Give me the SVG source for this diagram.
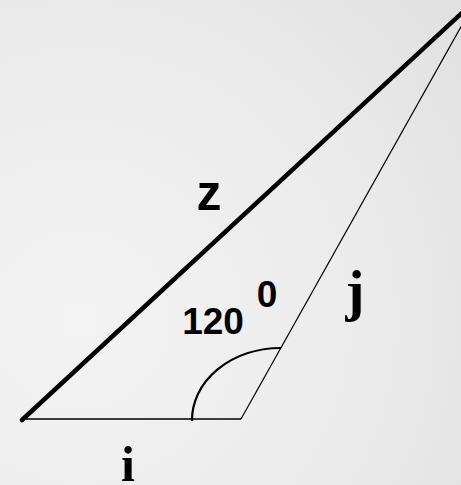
<svg xmlns="http://www.w3.org/2000/svg" width="461" height="485" viewBox="0 0 461 485">
<defs>
<radialGradient id="bg" cx="80" cy="320" r="480" gradientUnits="userSpaceOnUse">
<stop offset="0" stop-color="#f3f3f3"/>
<stop offset="0.6" stop-color="#ebebeb"/>
<stop offset="1" stop-color="#e1e1e2"/>
</radialGradient>
<style>
.thin{stroke:#000;fill:none;stroke-width:1.2}
.thick{stroke:#000;fill:none;stroke-width:4.5;stroke-linecap:round}
.arc{stroke:#000;fill:none;stroke-width:2.2}
.sans{font-family:"Liberation Sans",Arial,sans-serif;font-weight:bold;fill:#000}
.serif{font-family:"Liberation Serif","Times New Roman",serif;font-weight:bold;fill:#000}
</style>
</defs>
<rect width="461" height="485" fill="url(#bg)"/>
<g id="connectors">
<line class="thin" x1="22" y1="419" x2="241" y2="419" style="stroke-width:1.6"/>
<line class="thin" x1="241" y1="419" x2="462" y2="25"/>
<line class="thick" x1="22" y1="420" x2="464" y2="11"/>
<path class="arc" d="M192,421 A89,72 0 0 1 281,348"/>
</g>
<g id="label-z"><text class="sans" x="209" y="210" font-size="50" text-anchor="middle">z</text></g>
<g id="label-120"><text class="sans" x="213" y="334" font-size="37" text-anchor="middle">120</text></g>
<g id="label-0"><text class="sans" x="267" y="307" font-size="37" text-anchor="middle">0</text></g>
<g id="label-j"><text class="serif" x="355" y="310" font-size="57" text-anchor="middle">j</text></g>
<g id="label-i"><text class="serif" x="128" y="481" font-size="50" text-anchor="middle">i</text></g>
</svg>
